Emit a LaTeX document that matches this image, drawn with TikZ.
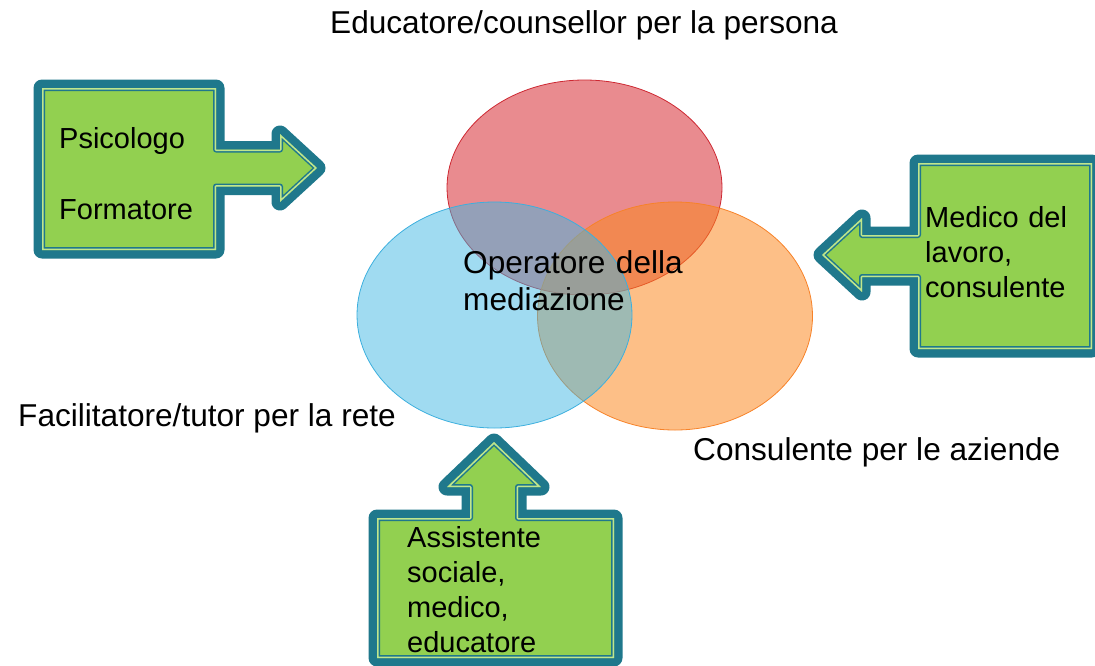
\documentclass[tikz,border=0pt]{standalone}
\usepackage{fontspec}
\setmainfont{Liberation Sans}
\definecolor{bandteal}{RGB}{31,120,140}
\definecolor{boxgreen}{RGB}{146,208,80}
\definecolor{lightline}{RGB}{192,230,140}
\definecolor{vred}{RGB}{215,44,51}
\definecolor{vrededge}{RGB}{205,40,50}
\definecolor{vorange}{RGB}{251,134,29}
\definecolor{vorangeedge}{RGB}{247,130,40}
\definecolor{vblue}{RGB}{61,182,226}
\definecolor{vblueedge}{RGB}{60,175,222}
\tikzset{
  outerband/.style={draw=bandteal, line width=17pt, line join=round},
  innerband/.style={draw=bandteal, line width=6pt, line join=round},
  innerlight/.style={draw=lightline, line width=3pt, line join=round},
  boxbody/.style={fill=boxgreen},
  biglabel/.style={font=\fontsize{31.6}{37}\selectfont, inner sep=0pt, anchor=base west},
  boxtext/.style={font=\fontsize{29}{35}\selectfont, inner sep=0pt, anchor=base west, text width=210pt, align=left},
  centertext/.style={font=\fontsize{31.6}{37}\selectfont, inner sep=0pt, anchor=base west, text width=240pt, align=left},
}
\newcommand\calloutbox[1]{%
  \draw[outerband] #1;
  \fill[boxbody] #1;
  \begin{scope}
    \clip #1;
    \draw[innerband] #1;
    \draw[innerlight] #1;
  \end{scope}}
\begin{document}
\begin{tikzpicture}[x=1pt,y=-1pt]
\useasboundingbox (0,0) rectangle (1095,665);

% Venn ellipses
\draw[fill=vred, fill opacity=0.55, draw=vrededge, line width=0.8pt] (584.5,187.5) ellipse [x radius=137.5, y radius=107.5];
\draw[fill=vorange, fill opacity=0.53, draw=vorangeedge, line width=0.8pt] (675,316) ellipse [x radius=137.5, y radius=114];
\draw[fill=vblue, fill opacity=0.49, draw=vblueedge, line width=0.8pt] (494.5,315) ellipse [x radius=137.5, y radius=113];

% Left callout (arrow to the right)
\calloutbox{(42,88) -- (216,88) -- (216,149.5) -- (280,149.5) -- (280,134) -- (317,168) -- (280,202) -- (280,186.5) -- (216,186.5) -- (216,250) -- (42,250) -- cycle}

% Right callout (arrow to the left)
\calloutbox{(1092,163) -- (918,163) -- (918,235) -- (862,235) -- (862,218) -- (822,255) -- (862,292) -- (862,277) -- (918,277) -- (918,349) -- (1092,349) -- cycle}

% Bottom callout (arrow upwards)
\calloutbox{(377,518) -- (470,518) -- (470,487) -- (447,487) -- (494,442) -- (541,487) -- (518,487) -- (518,518) -- (614,518) -- (614,658) -- (377,658) -- cycle}

% Texts
\node[biglabel] (top) at (330,33) {Educatore/counsellor per la persona};
\node[biglabel] (left) at (18,426) {Facilitatore/tutor per la rete};
\node[biglabel] (right) at (693,460) {Consulente per le aziende};
\node[centertext] (center) at (463,273) {Operatore della\\mediazione};
\node[boxtext] (boxA) at (59,148) {Psicologo\\[36pt]Formatore};
\node[boxtext] (boxB) at (925,227) {Medico del\\lavoro,\\consulente};
\node[boxtext] (boxC) at (407,547) {Assistente\\sociale,\\medico,\\educatore};
\end{tikzpicture}
\end{document}
